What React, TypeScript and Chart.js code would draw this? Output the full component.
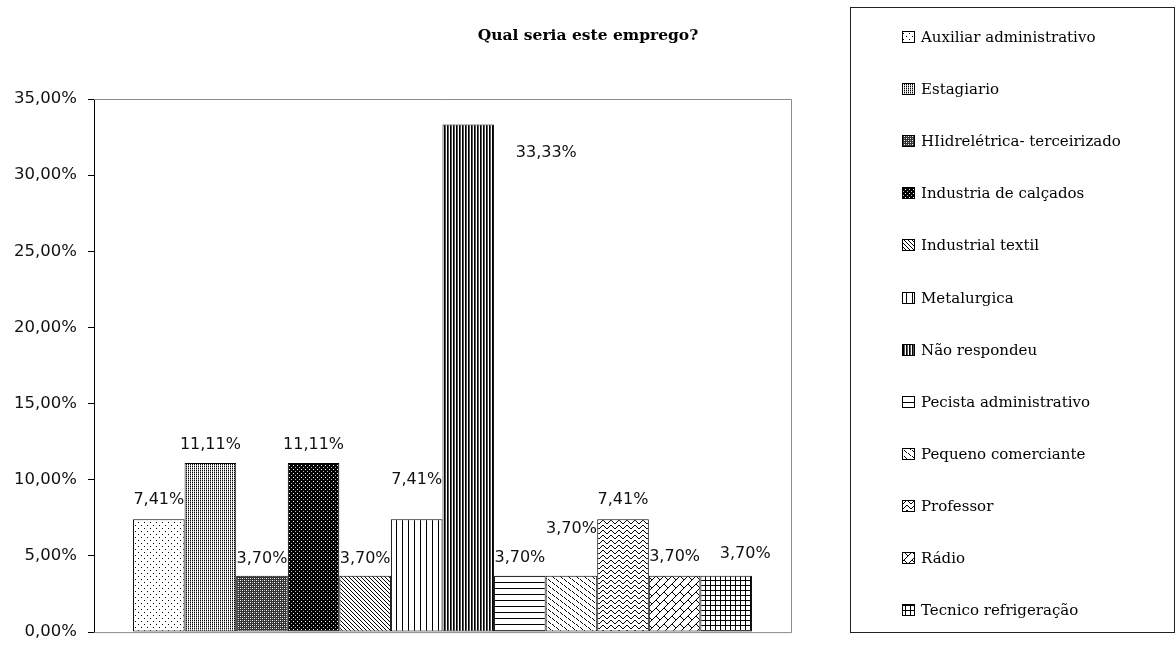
import React, { useEffect, useRef } from "react";
import { Chart, registerables } from "chart.js";

Chart.register(...registerables);

const TITLE = "Qual seria este emprego?";
const CATEGORIES = [""];
const SERIES_NAMES = [
  "Auxiliar administrativo",
  "Estagiario",
  "HIidrelétrica- terceirizado",
  "Industria de calçados",
  "Industrial textil",
  "Metalurgica",
  "Não respondeu",
  "Pecista administrativo",
  "Pequeno comerciante",
  "Professor",
  "Rádio",
  "Tecnico refrigeração",
];
const SERIES_VALUES = [7.41, 11.11, 3.7, 11.11, 3.7, 7.41, 33.33, 3.7, 3.7, 7.41, 3.7, 3.7];
const Y_TICKS = [0, 5, 10, 15, 20, 25, 30, 35];
// label nudges (dx, dy) relative to the bar's top centre, as placed in the original
const LABEL_NUDGE: [number, number][] = [
  [0, -19], [0, -18], [0, -17], [0, -18], [0, -17], [0, -39],
  [78, 28], [0, -18], [0, -47], [0, -19], [0, -19], [19, -22],
];

const fmtPct = (v: number) => v.toFixed(2).replace(".", ",") + "%";

type Px = [number, number, string?];

function tile(w: number, h: number, bg: string, px: Px[]): HTMLCanvasElement {
  const c = document.createElement("canvas");
  c.width = w;
  c.height = h;
  const g = c.getContext("2d")!;
  g.fillStyle = bg;
  g.fillRect(0, 0, w, h);
  for (const [x, y, col] of px) {
    g.fillStyle = col || "#000";
    g.fillRect(x, y, 1, 1);
  }
  return c;
}

function makePatterns(ctx: CanvasRenderingContext2D): (CanvasPattern | string)[] {
  const W = "#fff";
  const tiles: HTMLCanvasElement[] = [];
  // 1 sparse dots
  tiles.push(tile(6, 6, W, [[0, 0], [3, 3]]));
  // 2 fine light dots
  tiles.push(tile(2, 2, W, [[0, 0], [0, 1, "#999"]]));
  // 3 dark checker
  tiles.push(tile(4, 4, "#333", [[0, 0, "#fff"], [2, 2, "#fff"], [0, 2, "#aaa"], [2, 0, "#aaa"]]));
  // 4 black with white dots
  tiles.push(tile(4, 4, "#000", [[1, 1, "#fff"], [3, 3, "#bbb"]]));
  // 5 diagonal "\"
  tiles.push(tile(4, 4, W, [[0, 0], [1, 1], [2, 2], [3, 3]]));
  // 6 vertical lines
  tiles.push(tile(6, 1, W, [[0, 0]]));
  // 7 dense vertical stripes
  tiles.push(tile(3, 1, W, [[0, 0], [1, 0, "#555"]]));
  // 8 horizontal lines
  tiles.push(tile(1, 6, W, [[0, 0]]));
  // 9 dashed diagonal
  tiles.push(tile(8, 6, W, [[0, 0], [1, 1], [2, 2], [4, 3], [5, 4], [6, 5]]));
  // 10 waves
  const waveY = [2, 1, 0, 0, 1, 2, 3, 3];
  tiles.push(tile(8, 5, W, waveY.map((y, x) => [x, y] as Px)));
  // 11 diagonal brick
  const brick: Px[] = [];
  for (let x = 0; x < 8; x++) brick.push([x, 7 - x]);
  brick.push([0, 0], [1, 1], [2, 2], [3, 3]);
  tiles.push(tile(8, 8, W, brick));
  // 12 grid
  const grid: Px[] = [];
  for (let i = 0; i < 5; i++) grid.push([i, 0], [0, i]);
  tiles.push(tile(5, 5, W, grid));
  return tiles.map((t) => ctx.createPattern(t, "repeat") || "#888");
}

export default function App() {
  const ref = useRef<HTMLCanvasElement | null>(null);

  useEffect(() => {
    const canvas = ref.current;
    if (!canvas) return;
    const ctx = canvas.getContext("2d")!;
    const patterns = makePatterns(ctx);

    const framePlugin = {
      id: "frame",
      beforeDatasetsDraw(chart: any) {
        const { ctx: c, chartArea: a } = chart;
        c.save();
        c.strokeStyle = "#8a8a8a";
        c.lineWidth = 1;
        c.beginPath();
        c.moveTo(a.left, a.top + 0.5);
        c.lineTo(a.right + 0.5, a.top + 0.5);
        c.lineTo(a.right + 0.5, a.bottom + 0.5);
        c.lineTo(a.left, a.bottom + 0.5);
        c.stroke();
        c.restore();
      },
    };

    const labelPlugin = {
      id: "barLabels",
      afterDatasetsDraw(chart: any) {
        const c = chart.ctx;
        c.save();
        c.font = "16px 'DejaVu Sans'";
        c.fillStyle = "#111";
        c.textAlign = "center";
        c.textBaseline = "middle";
        chart.data.datasets.forEach((ds: any, i: number) => {
          const el = chart.getDatasetMeta(i).data[0];
          if (!el) return;
          const [dx, dy] = LABEL_NUDGE[i] || [0, -18];
          c.fillText(fmtPct(ds.data[0]), el.x + dx, el.y + dy);
        });
        c.restore();
      },
    };

    const titleAndLegendPlugin = {
      id: "titleAndLegend",
      afterDraw(chart: any) {
        const c = chart.ctx;
        c.save();
        // title, centred over the whole picture
        c.font = "bold 15.5px 'DejaVu Serif'";
        c.fillStyle = "#000";
        c.textAlign = "center";
        c.textBaseline = "middle";
        c.fillText(TITLE, chart.width / 2, 36);
        // legend box
        c.strokeStyle = "#222";
        c.lineWidth = 1;
        c.strokeRect(850.5, 7.5, 324, 625);
        c.font = "15px 'DejaVu Serif'";
        c.textAlign = "left";
        chart.data.datasets.forEach((ds: any, i: number) => {
          const y = Math.round(37 + i * 52.1);
          c.fillStyle = ds.backgroundColor;
          c.fillRect(902, y - 6, 13, 12);
          c.strokeStyle = "#000";
          c.strokeRect(902.5, y - 5.5, 12, 11);
          c.fillStyle = "#000";
          c.fillText(ds.label, 921, y + 1);
        });
        c.restore();
      },
    };

    const chart = new Chart(canvas, {
      type: "bar",
      data: {
        labels: CATEGORIES,
        datasets: SERIES_NAMES.map((name, i) => ({
          label: name,
          data: [SERIES_VALUES[i]],
          backgroundColor: patterns[i] as any,
          borderColor: "#000",
          borderWidth: 1,
          borderSkipped: false,
          categoryPercentage: 0.888,
          barPercentage: 1,
        })),
      },
      options: {
        animation: false,
        responsive: true,
        maintainAspectRatio: false,
        layout: { padding: { left: 0, right: 385, top: 99, bottom: 11 } },
        plugins: {
          legend: { display: false },
          tooltip: { enabled: false },
          title: { display: false },
        },
        scales: {
          x: { display: false },
          y: {
            min: 0,
            max: 35,
            afterBuildTicks: (s: any) => {
              s.ticks = Y_TICKS.map((v) => ({ value: v }));
            },
            afterFit: (s: any) => {
              s.width = 94;
            },
            ticks: {
              callback: (v: any) => fmtPct(Number(v)),
              font: { family: "'DejaVu Sans'", size: 16.5 },
              color: "#111",
              padding: 11,
            },
            grid: { drawOnChartArea: false, drawTicks: true, tickLength: 6, color: "#000" },
            border: { color: "#000", width: 1 },
          },
        },
      },
      plugins: [framePlugin, labelPlugin, titleAndLegendPlugin],
    });

    return () => chart.destroy();
  }, []);

  return (
    <div style={{ position: "fixed", left: 0, top: 0, width: 1176, height: 653, background: "#fff" }}>
      <canvas ref={ref} />
    </div>
  );
}
